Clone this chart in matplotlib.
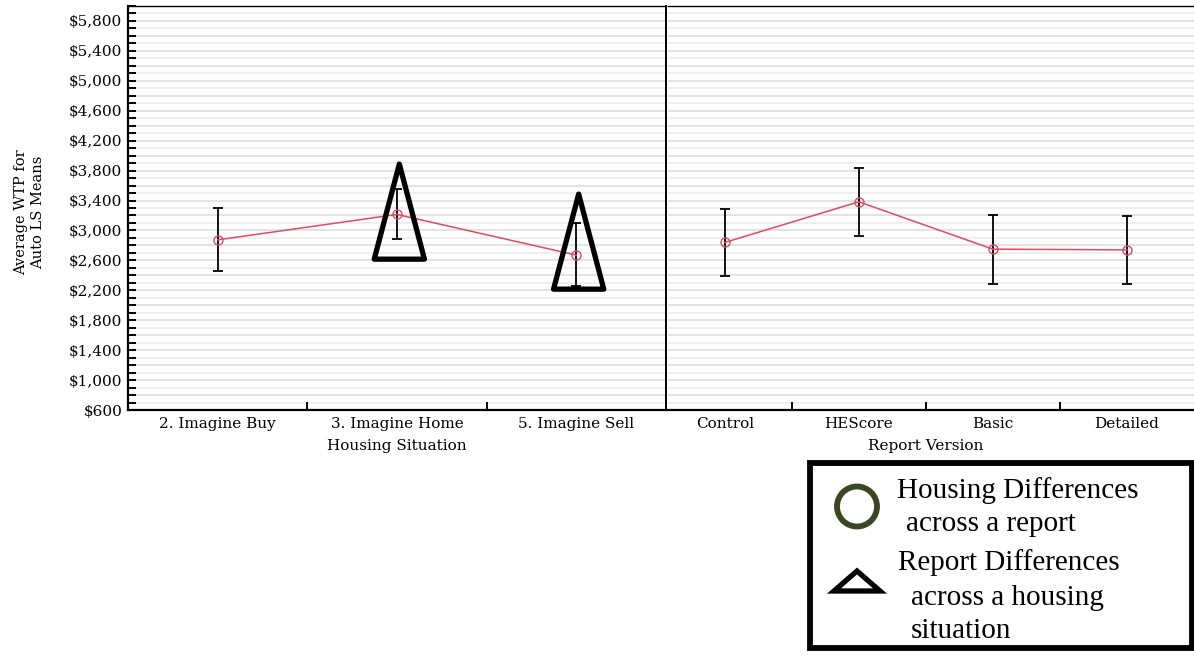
import matplotlib
matplotlib.use("Agg")
import matplotlib.pyplot as plt
from matplotlib.patches import Polygon, Rectangle, Ellipse
from matplotlib.ticker import MultipleLocator, FixedLocator, FuncFormatter

# LS means with lower / upper error bar ends
housing = ["2. Imagine Buy", "3. Imagine Home", "5. Imagine Sell"]
housing_mean = [2874, 3214, 2670]
housing_low = [2460, 2884, 2255]
housing_high = [3298, 3548, 3098]

report = ["Control", "HEScore", "Basic", "Detailed"]
report_mean = [2839, 3383, 2750, 2740]
report_low = [2393, 2924, 2286, 2286]
report_high = [3285, 3833, 3209, 3191]

# hand-drawn triangles on the housing panel: (category, apex value, base value)
triangles = [(1, 3887, 2616), (2, 3486, 2215)]

W, H = 1194, 656
RED = "#e24a5f"
plt.rcParams["font.family"] = "DejaVu Serif"

fig = plt.figure(figsize=(W / 100, H / 100), dpi=100)
ax1 = fig.add_axes([128 / W, 246 / H, 538 / W, 404 / H])
ax2 = fig.add_axes([668 / W, 246 / H, 526 / W, 404 / H])


def draw_panel(ax, cats, mean, low, high, xlim):
    x = list(range(len(cats)))
    yerr = [[m - l for m, l in zip(mean, low)], [h - m for m, h in zip(mean, high)]]
    for v in range(700, 6000, 100):
        ax.axhline(v, color="#e0e0e0" if v % 200 == 0 else "#eeeeee", lw=1.3, zorder=0)
    ax.errorbar(x, mean, yerr=yerr, fmt="none", ecolor="black", elinewidth=1.3,
                capsize=3.5, capthick=1.3, zorder=2)
    ax.plot(x, mean, color=RED, lw=1.1, marker="o", ms=6.5, mfc="none",
            mec=RED, mew=1.0, zorder=3)
    ax.set_xlim(*xlim)
    ax.set_ylim(600, 6000)
    ax.set_xticks(x)
    ax.set_xticklabels(cats, fontsize=11)
    ax.set_xticks([i + 0.5 for i in x[:-1]], minor=True)
    ax.tick_params(axis="x", which="major", length=0, pad=5)
    ax.tick_params(axis="x", which="minor", direction="in", length=6, width=1.4)
    ax.spines["bottom"].set_linewidth(1.6)
    ax.spines["top"].set_linewidth(1.0)


draw_panel(ax1, housing, housing_mean, housing_low, housing_high, (-0.5, 2.5))
draw_panel(ax2, report, report_mean, report_low, report_high, (-0.423, 3.5))

ax1.yaxis.set_major_locator(FixedLocator(list(range(600, 5801, 400))))
ax1.yaxis.set_minor_locator(MultipleLocator(100))
ax1.yaxis.set_major_formatter(FuncFormatter(lambda v, p: f"${v:,.0f}"))
ax1.tick_params(axis="y", which="both", direction="in", length=6, width=1.4,
                labelsize=11, pad=4)
ax1.spines["left"].set_linewidth(1.6)
ax1.spines["right"].set_linewidth(1.4)
ax1.set_ylabel("Average WTP for\nAuto LS Means", fontsize=10.5)
ax1.yaxis.set_label_coords(-0.155, 0.49)
ax1.set_xlabel("Housing Situation", fontsize=11, labelpad=6)

ax2.set_yticks([])
ax2.spines["left"].set_visible(False)
ax2.spines["right"].set_color("#999999")
ax2.set_xlabel("Report Version", fontsize=11, labelpad=6)
ax2.xaxis.label.set_x((925.7 - 668) / 526)

for cat, apex, base in triangles:
    tri = Polygon([(cat + 0.013, apex), (cat - 0.127, base), (cat + 0.153, base)],
                  closed=True, fill=False, ec="black", lw=3.8, joinstyle="round",
                  zorder=4)
    ax1.add_patch(tri)


def px(x, y):
    return (x / W, 1 - y / H)


# legend box drawn on the figure
fig.add_artist(Rectangle(px(810, 648), 382 / W, 185 / H, transform=fig.transFigure,
                         fc="white", ec="black", lw=4.2))
fig.add_artist(Ellipse(px(857, 506.5), 40 / W, 40 / H, transform=fig.transFigure,
                       fill=False, ec="#3b4720", lw=4.2))
fig.add_artist(Polygon([px(857, 571), px(834, 591), px(880, 591)], closed=True,
                       transform=fig.transFigure, fill=False, ec="black", lw=3.8,
                       joinstyle="miter"))
legend_lines = [("Housing Differences", 897, 498), ("across a report", 906, 531),
                ("Report Differences", 898, 570), ("across a housing", 911, 605),
                ("situation", 911, 638)]
for txt, lx, ly in legend_lines:
    fig.text(*px(lx, ly), txt, fontsize=21, family="Liberation Serif",
             ha="left", va="baseline")

fig.savefig("out.png", dpi=100)
